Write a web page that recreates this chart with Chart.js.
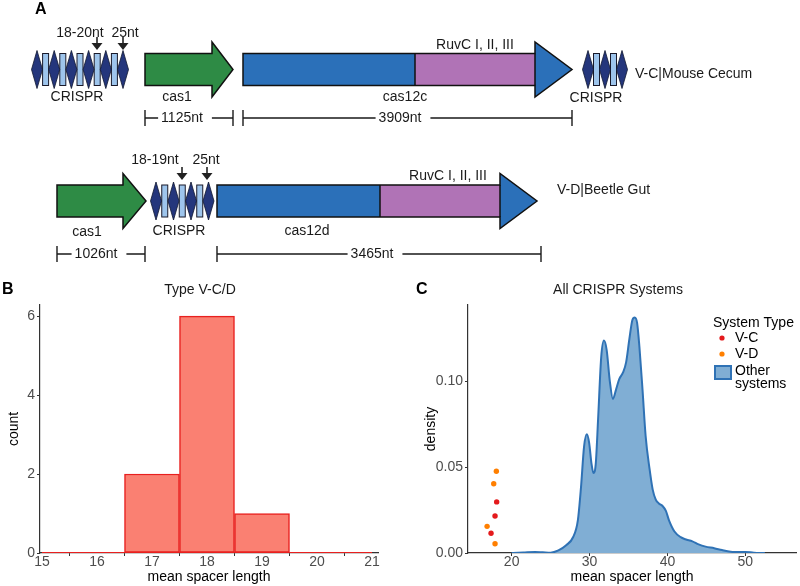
<!DOCTYPE html>
<html>
<head>
<meta charset="utf-8">
<script src="https://cdn.jsdelivr.net/npm/chart.js@4"></script>
<style>
  html, body { margin: 0; padding: 0; background: #fff; }
  #wrap { position: relative; width: 800px; height: 586px; }
  canvas { position: absolute; }
</style>
</head>
<body>
<div id="wrap">
  <canvas id="geneMap" width="800" height="275" style="left:0;top:0"></canvas>
  <canvas id="spacerHist" width="400" height="311" style="left:0;top:275px"></canvas>
  <canvas id="spacerDensity" width="400" height="311" style="left:400px;top:275px"></canvas>
</div>
<script>
// ===== Data =====
// A: the two loci
const lociNames = ['V-C|Mouse Cecum', 'V-D|Beetle Gut'];
const cas12Names = ['cas12c', 'cas12d'];
const cas1Lengths = ['1125nt', '1026nt'];
const cas12Lengths = ['3909nt', '3465nt'];
const spacerLabels = [['18-20nt', '25nt'], ['18-19nt', '25nt']];

// B: histogram of mean spacer length, Type V-C/D
const histBins = [15, 16, 17, 18, 19, 20, 21];
const histCounts = [0, 0, 2, 6, 1, 0, 0];
const histTicksX = [15, 16, 17, 18, 19, 20, 21];
const histTicksY = [0, 2, 4, 6];

// C: density of mean spacer length, all CRISPR systems
const densityX = [20, 21.5, 23, 24, 25, 26, 27, 27.9, 28.5, 28.9, 29.3, 29.65, 29.95, 30.25, 30.5,
  30.8, 31.1, 31.5, 31.85, 32.2, 32.6, 33, 33.4, 33.8, 34.3, 34.7, 35.1, 35.5, 35.8, 36.1,
  36.4, 36.8, 37.2, 37.7, 38.1, 38.5, 38.9, 39.4, 39.8, 40.2, 40.9, 41.7, 42.3, 43.2, 44,
  44.9, 46, 47, 47.9, 48.7, 50, 51.1, 52.5];
const densityY = [0, 0.0003, 0.0006, 0.0004, 0.0002, 0.0015, 0.0045, 0.0093, 0.019, 0.038, 0.062, 0.069, 0.064, 0.052, 0.0465,
  0.052, 0.078, 0.114, 0.1235, 0.118, 0.1, 0.0895, 0.095, 0.101, 0.105, 0.111, 0.124, 0.1355, 0.137, 0.134,
  0.12, 0.095, 0.068, 0.049, 0.037, 0.031, 0.0288, 0.0272, 0.0245, 0.019, 0.0125, 0.0092, 0.008, 0.0068, 0.005,
  0.0037, 0.0028, 0.0017, 0.0009, 0.0006, 0.0006, 0.0002, 0];
const vcX = [18.08, 17.87, 17.36];
const vcY = [0.0297, 0.0215, 0.0115];
const vdX = [18.04, 17.7, 16.85, 17.87];
const vdY = [0.0475, 0.0403, 0.0155, 0.0054];
const densTicksX = [20, 30, 40, 50];
const densTicksY = [0, 0.05, 0.10];

const FONT = "'Liberation Sans', Arial, sans-serif";
Chart.defaults.font.family = FONT;

// ===== A: gene map (drawn on a hidden 800 x 275 linear grid) =====
const mapRows = [
  { y: 69.5,
    crisprs: [{ x0: 31.5, n: 6, step: 17.2, label: [77, 97] }, { x0: 582.5, n: 3, step: 17, label: [596, 98] }],
    cas1: { x0: 145, xh: 212, x1: 233, label: [177, 97] },
    cas12: { x0: 243, xh: 535, x1: 572, ruvc: [415, 535], label: [405, 97], ruvcLabel: [475, 45] },
    spacers: [{ tx: 80, ax: 97 }, { tx: 125, ax: 123 }], spacerY: 33, arrowY: [37, 50],
    brackets: { y: 118, cas1: [145, 233, 182], cas12: [243, 572, 400] },
    name: [635, 74] },
  { y: 201,
    crisprs: [{ x0: 150.5, n: 4, step: 17.5, label: [179, 231] }],
    cas1: { x0: 57, xh: 123, x1: 146, label: [87, 232] },
    cas12: { x0: 217, xh: 500, x1: 537, ruvc: [380, 500], label: [307, 231], ruvcLabel: [448, 176] },
    spacers: [{ tx: 155, ax: 182 }, { tx: 206, ax: 207 }], spacerY: 160, arrowY: [167, 180],
    brackets: { y: 254, cas1: [57, 145, 96], cas12: [217, 541, 372] },
    name: [557, 190] }
];

const geneMapPlugin = {
  id: 'geneMap',
  afterDraw(chart) {
    const ctx = chart.ctx;
    const X = v => chart.scales.x.getPixelForValue(v);
    const Y = v => chart.scales.y.getPixelForValue(v);
    const bh = 16, hh = 27.5;
    ctx.save();
    ctx.textBaseline = 'middle';
    ctx.lineJoin = 'miter';

    function arrowPath(g, yc) {
      ctx.beginPath();
      ctx.moveTo(X(g.x0), Y(yc - bh));
      ctx.lineTo(X(g.xh), Y(yc - bh));
      ctx.lineTo(X(g.xh), Y(yc - hh));
      ctx.lineTo(X(g.x1), Y(yc));
      ctx.lineTo(X(g.xh), Y(yc + hh));
      ctx.lineTo(X(g.xh), Y(yc + bh));
      ctx.lineTo(X(g.x0), Y(yc + bh));
      ctx.closePath();
    }
    function text(s, x, y, align) {
      ctx.textAlign = align || 'center';
      ctx.fillText(s, X(x), Y(y));
    }

    mapRows.forEach((row, i) => {
      const yc = row.y;
      // cas1
      arrowPath(row.cas1, yc);
      ctx.fillStyle = '#2e8b45';
      ctx.fill();
      ctx.lineWidth = 1.5; ctx.strokeStyle = '#111';
      ctx.stroke();
      // cas12 with RuvC domain
      const g = row.cas12;
      arrowPath(g, yc);
      ctx.fillStyle = '#2b70b9';
      ctx.fill();
      ctx.fillStyle = '#b073b6';
      ctx.fillRect(X(g.ruvc[0]), Y(yc - bh), X(g.ruvc[1]) - X(g.ruvc[0]), Y(yc + bh) - Y(yc - bh));
      arrowPath(g, yc);
      ctx.stroke();
      ctx.beginPath();
      ctx.moveTo(X(g.ruvc[0]), Y(yc - bh)); ctx.lineTo(X(g.ruvc[0]), Y(yc + bh));
      ctx.moveTo(X(g.ruvc[1]), Y(yc - bh)); ctx.lineTo(X(g.ruvc[1]), Y(yc + bh));
      ctx.stroke();

      // CRISPR arrays
      row.crisprs.forEach(c => {
        for (let k = 0; k < c.n; k++) {
          const cx = c.x0 + 5.5 + k * c.step;
          if (k < c.n - 1) {
            const rx = cx + c.step / 2;
            ctx.fillStyle = '#9ec5ec';
            ctx.fillRect(X(rx - 3), Y(yc - 16), X(rx + 3) - X(rx - 3), Y(yc + 16) - Y(yc - 16));
            ctx.lineWidth = 1; ctx.strokeStyle = '#1a1a2a';
            ctx.strokeRect(X(rx - 3), Y(yc - 16), X(rx + 3) - X(rx - 3), Y(yc + 16) - Y(yc - 16));
          }
          ctx.beginPath();
          ctx.moveTo(X(cx), Y(yc - 19));
          ctx.lineTo(X(cx + 5.5), Y(yc));
          ctx.lineTo(X(cx), Y(yc + 19));
          ctx.lineTo(X(cx - 5.5), Y(yc));
          ctx.closePath();
          ctx.fillStyle = '#24367c';
          ctx.fill();
          ctx.lineWidth = 0.8; ctx.strokeStyle = '#101830';
          ctx.stroke();
        }
      });

      // spacer arrows
      ctx.fillStyle = '#222'; ctx.strokeStyle = '#222'; ctx.lineWidth = 1.6;
      row.spacers.forEach(s => {
        ctx.beginPath();
        ctx.moveTo(X(s.ax), Y(row.arrowY[0]));
        ctx.lineTo(X(s.ax), Y(row.arrowY[1] - 6));
        ctx.stroke();
        ctx.beginPath();
        ctx.moveTo(X(s.ax - 5.5), Y(row.arrowY[1] - 7));
        ctx.lineTo(X(s.ax + 5.5), Y(row.arrowY[1] - 7));
        ctx.lineTo(X(s.ax), Y(row.arrowY[1]));
        ctx.closePath();
        ctx.fill();
      });

      // text labels
      ctx.fillStyle = '#1a1a1a';
      ctx.font = '14px ' + FONT;
      spacerLabels[i].forEach((s, k) => text(s, row.spacers[k].tx, row.spacerY));
      row.crisprs.forEach(c => text('CRISPR', c.label[0], c.label[1]));
      text('cas1', row.cas1.label[0], row.cas1.label[1]);
      text(cas12Names[i], g.label[0], g.label[1]);
      text('RuvC I, II, III', g.ruvcLabel[0], g.ruvcLabel[1]);
      text(lociNames[i], row.name[0], row.name[1], 'left');

      // length brackets
      const by = row.brackets.y;
      [[row.brackets.cas1, cas1Lengths[i]], [row.brackets.cas12, cas12Lengths[i]]].forEach(([b, lab]) => {
        const w = ctx.measureText(lab).width;
        ctx.strokeStyle = '#1a1a1a'; ctx.lineWidth = 1.4;
        ctx.beginPath();
        ctx.moveTo(X(b[0]), Y(by)); ctx.lineTo(X(b[2] - w / 2) - 3, Y(by));
        ctx.moveTo(X(b[2] + w / 2) + 9, Y(by)); ctx.lineTo(X(b[1]), Y(by));
        ctx.moveTo(X(b[0]), Y(by - 8)); ctx.lineTo(X(b[0]), Y(by + 8));
        ctx.moveTo(X(b[1]), Y(by - 8)); ctx.lineTo(X(b[1]), Y(by + 8));
        ctx.stroke();
        text(lab, b[2], by);
      });
    });

    ctx.font = 'bold 16px ' + FONT;
    ctx.fillStyle = '#000';
    text('A', 35, 10, 'left');
    ctx.restore();
  }
};

new Chart(document.getElementById('geneMap'), {
  type: 'scatter',
  data: { datasets: [] },
  options: {
    responsive: false,
    animation: false,
    layout: { padding: 0 },
    plugins: { legend: { display: false }, tooltip: { enabled: false } },
    scales: {
      x: { type: 'linear', min: 0, max: 800, display: false },
      y: { type: 'linear', min: 0, max: 275, reverse: true, display: false }
    }
  },
  plugins: [geneMapPlugin]
});

// ===== shared: panel letter + title =====
const panelText = {
  id: 'panelText',
  afterDraw(chart, args, opts) {
    const ctx = chart.ctx;
    ctx.save();
    ctx.textBaseline = 'middle';
    ctx.fillStyle = '#000';
    ctx.font = 'bold 16px ' + FONT;
    ctx.textAlign = 'left';
    ctx.fillText(opts.letter, opts.letterX, 15);
    ctx.font = '14px ' + FONT;
    ctx.textAlign = 'center';
    ctx.fillStyle = '#1a1a1a';
    ctx.fillText(opts.title, opts.titleX, 15);
    ctx.restore();
  }
};

function axisX(min, max, ticks, fmt) {
  return {
    type: 'linear', min, max, offset: false,
    afterBuildTicks: s => { s.ticks = ticks.map(v => ({ value: v })); },
    afterFit: s => { s.height = 33; },
    ticks: { color: '#4d4d4d', font: { size: 14 }, padding: -2, autoSkip: false, maxRotation: 0,
             callback: fmt || (v => v) },
    grid: { display: true, drawOnChartArea: false, tickLength: 3, color: '#333' },
    border: { display: true, color: '#333', width: 1.2 },
    title: { display: true, text: 'mean spacer length', color: '#000', font: { size: 14 }, padding: { top: 0, bottom: 0 } }
  };
}
function axisY(min, max, ticks, width, label, titlePad, fmt) {
  return {
    type: 'linear', min, max,
    afterBuildTicks: s => { s.ticks = ticks.map(v => ({ value: v })); },
    afterFit: s => { s.width = width; },
    ticks: { color: '#4d4d4d', font: { size: 14 }, padding: 2, autoSkip: false, callback: fmt || (v => v) },
    grid: { display: true, drawOnChartArea: false, tickLength: 3, color: '#333' },
    border: { display: true, color: '#333', width: 1.2 },
    title: { display: true, text: label, color: '#000', font: { size: 14 }, padding: { top: titlePad, bottom: 0 } }
  };
}

// ===== B: histogram =====
new Chart(document.getElementById('spacerHist'), {
  type: 'bar',
  data: {
    datasets: [{
      type: 'bar',
      data: histBins.map((b, i) => ({ x: b, y: histCounts[i] })),
      backgroundColor: '#fa8072',
      borderColor: '#e8201f',
      borderWidth: 1.5,
      borderSkipped: false,
      barPercentage: 1,
      categoryPercentage: 1,
      grouped: false
    }, {
      type: 'line',
      data: histBins.map(b => ({ x: b, y: 0 })),
      borderColor: '#e8201f',
      borderWidth: 2,
      pointRadius: 0
    }]
  },
  options: {
    responsive: false,
    animation: false,
    layout: { padding: { top: 30, right: 22, left: 0, bottom: 0 } },
    plugins: {
      legend: { display: false }, tooltip: { enabled: false },
      panelText: { letter: 'B', letterX: 2, title: 'Type V-C/D', titleX: 200 }
    },
    scales: {
      x: axisX(14.964, 21.109, histTicksX),
      y: axisY(0, 6.28, histTicksY, 40, 'count', 6)
    }
  },
  plugins: [panelText]
});

// ===== C: density + legend =====
const legendC = {
  id: 'legendC',
  afterDraw(chart) {
    const ctx = chart.ctx;
    const ds = chart.data.datasets;
    ctx.save();
    ctx.textBaseline = 'middle';
    ctx.textAlign = 'left';
    ctx.fillStyle = '#000';
    ctx.font = '14px ' + FONT;
    ctx.fillText('System Type', 313, 48);
    [ds[1], ds[2]].forEach((d, k) => {
      const y = 63 + k * 16;
      ctx.beginPath();
      ctx.arc(322, y, 2.6, 0, Math.PI * 2);
      ctx.fillStyle = d.backgroundColor;
      ctx.fill();
      ctx.fillStyle = '#000';
      ctx.fillText(d.label, 335, y);
    });
    const o = ds[0];
    ctx.fillStyle = o.backgroundColor;
    ctx.fillRect(315, 91, 16, 13);
    ctx.strokeStyle = o.borderColor; ctx.lineWidth = 2;
    ctx.strokeRect(315, 91, 16, 13);
    ctx.fillStyle = '#000';
    o.label.split(' ').forEach((w, k) => ctx.fillText(w, 335, 96 + k * 13));
    ctx.restore();
  }
};

new Chart(document.getElementById('spacerDensity'), {
  type: 'line',
  data: {
    datasets: [{
      label: 'Other systems',
      data: densityX.map((x, i) => ({ x, y: densityY[i] })),
      backgroundColor: '#80aed4',
      borderColor: '#2f72b5',
      borderWidth: 2,
      fill: 'origin',
      pointRadius: 0,
      cubicInterpolationMode: 'monotone'
    }, {
      type: 'scatter',
      label: 'V-C',
      data: vcX.map((x, i) => ({ x, y: vcY[i] })),
      backgroundColor: '#e41a1c',
      borderWidth: 0,
      pointRadius: 2.7
    }, {
      type: 'scatter',
      label: 'V-D',
      data: vdX.map((x, i) => ({ x, y: vdY[i] })),
      backgroundColor: '#ff7f00',
      borderWidth: 0,
      pointRadius: 2.7
    }]
  },
  options: {
    responsive: false,
    animation: false,
    layout: { padding: { top: 30, right: 2, left: 0, bottom: 0 } },
    plugins: {
      legend: { display: false }, tooltip: { enabled: false },
      panelText: { letter: 'C', letterX: 16, title: 'All CRISPR Systems', titleX: 218 }
    },
    scales: {
      x: axisX(14.4, 56.5, densTicksX),
      y: axisY(0, 0.1442, densTicksY, 68, 'density', 23, v => v.toFixed(2))
    }
  },
  plugins: [panelText, legendC]
});
</script>
</body>
</html>
